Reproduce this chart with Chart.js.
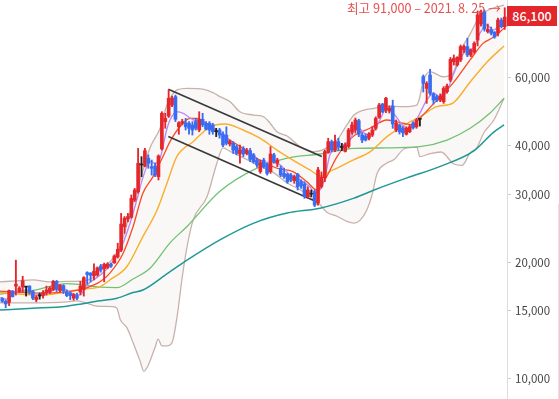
<!DOCTYPE html>
<html><head><meta charset="utf-8">
<script src="https://cdn.jsdelivr.net/npm/chart.js@4.4.0/dist/chart.umd.min.js"></script>
<style>
html,body{margin:0;padding:0;background:#fff;}
#wrap{position:relative;width:559px;height:399px;overflow:hidden;}
canvas{display:block;}
#hi{position:absolute;font:12.6px "Noto Sans CJK KR",sans-serif;line-height:17px;color:#e65050;white-space:nowrap;}
#last{position:absolute;left:507px;width:50px;height:20px;background:#e2262b;color:#fff;font:500 12.5px "Noto Sans CJK KR",sans-serif;text-align:center;line-height:20px;}
#edge{position:absolute;left:558px;top:204px;width:1px;height:195px;background:#e3e3e3;}
</style></head><body>
<div id="wrap"><canvas id="c" width="559" height="399"></canvas><div id="hi"></div><div id="last"></div><div id="edge"></div></div>
<script>
const opens=[16100,15850,15750,16850,17350,16800,17250,17250,17350,16800,16000,16350,16400,16700,16750,17000,17850,16900,17400,16750,16650,16150,16400,16750,17000,18800,18750,18450,18550,19550,19250,19400,19750,19950,20650,21500,24700,25850,26150,28950,30450,35700,35450,37150,35300,35450,33300,39250,46200,47750,51000,53600,44800,45750,45900,45750,45300,46200,43950,46850,45750,45750,45300,43500,43950,42850,42650,40450,40600,39800,38100,39400,38250,38850,37900,36750,34300,36750,35700,34300,37900,36050,35000,33950,33750,33600,32500,33750,32300,31850,29550,30000,30450,28450,31400,33050,38450,41000,39000,41000,39600,38700,39850,43450,43950,46450,42650,42400,41850,42650,44400,47400,51300,49500,49200,50700,43950,45300,44400,42850,43500,45800,44800,46850,60400,56300,61000,54500,53600,52500,52000,55200,59200,66000,64700,66700,70800,72200,68700,70000,75100,82600,88700,78900,79700,78800,78200,84600,81300];
const highs=[16200,15950,16950,16900,20250,17300,18400,17300,17400,16900,16400,16650,16900,17350,17300,17950,17950,17500,17500,16950,16800,16600,16650,17850,18350,18900,18800,19800,19450,19750,19900,19950,19900,20900,22400,26750,26250,26750,29850,31050,39400,37500,39400,37900,36750,36050,37900,49000,48550,55900,53800,54100,46200,46850,47100,46200,46200,47100,49000,48550,46200,46200,45750,44400,44400,43500,44800,41400,41000,40200,40200,39800,39400,39400,38250,37150,36750,37150,36050,39800,38250,37150,35450,35000,33950,33950,33600,33950,32650,32300,31350,30750,30750,35200,34250,39000,41850,41400,42650,41850,40600,40700,44400,46100,47200,46850,43250,42900,43250,44800,47550,51500,51500,53400,50700,52500,46650,45550,44800,44800,45300,46200,47100,47100,61000,58600,63100,54900,54100,54500,56900,57800,67700,68700,68000,72900,72900,75900,71100,74300,89300,89800,89800,82600,81100,78900,85600,85600,91000];
const lows=[15750,15250,15450,16250,16450,16700,16750,16350,16550,16000,15800,16050,16150,16450,16600,16900,16800,16750,16600,16300,16000,15950,16000,16500,16350,17550,17800,18000,18400,18850,17800,19250,19400,19850,20500,21300,23750,25450,26000,28700,30150,33300,35300,35000,33600,33300,32650,39000,44400,47350,50500,46200,42850,45300,43950,42850,42650,43950,43500,44800,43950,42850,42850,42250,41850,39800,40200,39950,38250,37900,36050,37500,37900,36400,36050,35200,33950,35000,33600,33950,36050,35300,33300,32950,32000,32300,32000,30750,31050,29250,29250,29550,27850,28100,31100,32300,38250,38650,38650,38850,38850,38550,39500,42900,43150,42250,40750,41150,41400,42250,43950,47100,48700,48700,48600,44400,43500,42900,42250,42650,43250,44200,44400,45000,55100,51500,54100,51300,52000,52000,51500,54700,58600,64700,64300,66000,69600,68000,68000,69400,72500,81600,79200,78300,77400,75900,76900,80700,80000];
const closes=[15850,15600,16900,16300,17550,17150,17900,17250,16750,16150,16250,16350,16700,16950,17150,17850,17050,17450,16900,16400,16400,16500,16150,17350,18250,18600,18500,18950,19350,19100,19750,19800,19550,20750,21600,25100,26000,26250,29250,30750,36050,35700,38850,36050,35000,33600,37650,48550,47100,53100,53100,46850,45900,46200,44800,44400,43950,44400,46850,45300,44150,43950,43500,43500,42650,40200,40600,41000,39000,38250,39000,38100,39000,36900,36400,35700,36150,35300,33950,38100,36400,36750,33600,33300,32300,32650,33300,31350,31500,29550,30750,30000,28100,34650,33250,38650,41000,39000,41000,39800,39600,40250,43950,45300,46650,42850,41400,41400,42850,43950,47100,51000,49000,53100,50100,45550,45750,43500,43250,44400,44800,44500,46650,46850,58000,58000,54700,52500,52500,53800,56300,57100,66900,67300,67700,72200,72200,68700,70800,73600,87200,88700,80200,80000,78200,76500,84600,81300,86100];
const highDate='2021. 8. 25';
const yTicks=[10000,15000,20000,30000,40000,60000];

const ma5=[[-0.68,16200],[1.3,16050],[3.2,16550],[5.2,16850],[7.2,16950],[9.1,16700],[12.1,16450],[15,16950],[18,17050],[20.9,16550],[22.9,16450],[24.9,17450],[27.8,18250],[30.8,19200],[34.7,21500],[37.6,25200],[39.6,28950],[41.5,33300],[43.5,36400],[45,36050],[46.5,37200],[48.4,43950],[49.4,46650],[51.4,49000],[53.3,48550],[56.3,46650],[59.2,46200],[62.2,44400],[65.1,42650],[68,40200],[71,38650],[73.9,37500],[76.9,36050],[78.9,36400],[81.8,35700],[84.8,33600],[87.7,32650],[90.6,31350],[92.1,30150],[93.6,30750],[95.1,33300],[96.5,37900],[99.5,39800],[102.4,41400],[104.4,44800],[107.3,42850],[109.3,43500],[111.2,46650],[113.2,50000],[115.2,48550],[117.1,46200],[119.1,44400],[121.1,45300],[123,48550],[125,52500],[127,54700],[128.9,53600],[130.9,55200],[132.8,61000],[134.8,66700],[136.8,70800],[138.7,71500],[140.7,78200],[142.7,82100],[144.6,79700],[146.6,82100],[147.8,83700]];
const ma10=[[-0.68,16850],[11.1,16650],[23.8,17050],[25.8,17300],[28.8,17800],[31.7,18750],[35.6,21100],[38.5,24700],[41.4,30150],[44.4,33300],[47.3,37500],[49.4,41000],[52.3,44800],[55.3,47100],[57.3,47100],[61.2,44800],[66.2,41850],[70.9,39400],[75.9,36750],[80.9,35000],[85.6,34300],[89.7,32300],[92.7,30750],[95.6,33400],[98.6,37500],[103.3,42250],[108.3,44400],[113.3,46650],[118,45750],[121,45300],[123,47100],[128,52500],[132.7,58000],[137.8,66700],[141.6,73600],[144.5,76200],[147.8,80500]];
const ma20=[[-0.68,16700],[11.1,16450],[23.8,17050],[28.8,17300],[31.7,18000],[36.7,19500],[41.4,23300],[45.6,27300],[48.5,32000],[51.4,37500],[56.2,41000],[61.2,44800],[65.6,45550],[70.9,43950],[75.9,41850],[80.9,39000],[85.6,36750],[90.6,34650],[93.6,33500],[97.4,34650],[103.3,36750],[108.3,38600],[113.3,42250],[118,45000],[123,47550],[128,50500],[132.7,51600],[137.8,58500],[142.8,65900],[147.8,72500]];
const ma60=[[-0.68,16550],[8.2,16850],[19.1,17600],[28.8,17250],[33.8,17200],[38.5,18100],[43.5,19300],[49.4,22450],[54.4,24750],[64.1,30500],[74.1,34700],[83.9,37200],[93.6,38100],[103.6,39400],[113.3,39500],[123,39800],[131,41400],[137.8,44400],[143.6,48550],[147.8,53100]];
const ma120=[[-0.68,15050],[9,15200],[19,15400],[28.8,15900],[33.8,16150],[38.5,16700],[41.4,16950],[48.8,18750],[54.4,20250],[64.1,22850],[74.1,25250],[83.9,26800],[93.6,27600],[103.6,29300],[109.5,30750],[119.2,33050],[129.2,35450],[138.9,38800],[144.5,43200],[147.8,45300]];
const bbUpper=[[-0.68,17800],[4.3,17900],[9,18000],[14,17800],[19.1,17850],[23.8,17900],[26.4,18200],[28.8,19100],[31.7,20050],[34.7,21950],[37.6,26750],[40.6,32650],[43.5,39500],[46.5,44500],[48.5,51000],[51.5,55800],[54.4,56300],[59.4,56000],[62.4,54700],[64.1,53600],[67.1,52000],[70,49000],[74.1,48050],[77.1,47500],[78.9,45750],[80.9,43500],[83.9,42400],[87.7,39800],[91.5,38650],[94.2,39000],[98.6,41400],[101.5,45300],[103.6,48050],[106.5,49500],[109.5,50000],[113.3,50700],[118,50500],[122.1,51000],[123,53600],[123.9,58600],[126,62250],[129.8,60350],[132.7,61550],[134.8,69900],[137.8,77800],[140.7,86650],[143.6,90100],[147.8,92500]];
const bbLower=[[-0.68,15700],[9,15700],[19.1,15800],[22,15900],[27.9,15400],[32.6,15350],[33.8,15200],[34.7,14250],[36.7,13550],[38.5,12400],[40.6,11100],[41.7,10450],[42.9,10800],[45,12050],[45.9,12650],[47,12150],[48.5,12150],[50,12400],[51.5,14500],[52.9,18050],[54.4,21900],[56.2,25700],[60.3,29550],[63.2,36050],[65,39500],[67.1,38700],[74.1,36100],[80,34050],[83.9,32050],[87.7,30800],[91.8,29000],[93.6,28150],[95.6,26950],[98.6,26300],[101.5,25500],[103.6,25250],[105.4,25700],[107.4,27350],[108.9,29850],[110.4,33950],[113.3,36100],[115.4,36850],[118.3,39250],[122.1,39700],[123,37500],[126,38200],[129.2,38550],[133,35900],[135.4,35600],[137.8,38350],[139.8,39600],[141.9,43300],[144.8,46650],[147.8,53100]];
const trendUpper=[[48.9,56000],[94.1,37550]];
const trendLower=[[48.9,42300],[92.4,28700]];

const N=closes.length;
const idx=[...Array(N).keys()];
const UP='#e5262b',DOWN='#396cf2',FLAT='#222222';
const col=idx.map(i=>closes[i]>opens[i]?UP:(closes[i]<opens[i]?DOWN:FLAT));
const pts=a=>a.map(([x,y])=>({x,y}));
const line=(data,color,w,order,extra)=>Object.assign({type:'line',data:pts(data),borderColor:color,borderWidth:w,pointRadius:0,fill:false,cubicInterpolationMode:'monotone',order},extra||{});

const chart=new Chart(document.getElementById('c'),{
  type:'bar',
  data:{datasets:[
    {type:'bar',data:idx.map(i=>({x:i,y:[opens[i],closes[i]]})),backgroundColor:col,barThickness:3,minBarLength:1,grouped:false,order:1},
    {type:'bar',data:idx.map(i=>({x:i,y:[lows[i],highs[i]]})),backgroundColor:col,barThickness:1.2,grouped:false,order:2},
    line(trendUpper,'#3a3a3a',1.7,3,{cubicInterpolationMode:'default',tension:0}),
    line(trendLower,'#3a3a3a',1.7,3,{cubicInterpolationMode:'default',tension:0}),
    line(ma5,'#bb8cf6',1.4,4),
    line(ma10,'#fb4a22',1.3,5),
    line(ma20,'#f9ae2c',1.4,6),
    line(ma60,'#72c272',1.3,7),
    line(ma120,'#1f9896',1.5,8),
    line(bbUpper,'#c7b1ab',1.3,20,{fill:'+1',backgroundColor:'rgba(214,196,190,0.13)'}),
    line(bbLower,'#c7b1ab',1.3,21)
  ]},
  options:{
    responsive:false,animation:false,devicePixelRatio:1,
    layout:{padding:0},
    plugins:{legend:{display:false},tooltip:{enabled:false}},
    scales:{
      x:{type:'linear',min:-0.68,max:148.66,display:false,offset:false},
      y:{type:'logarithmic',position:'right',min:8860,max:95300,
        afterBuildTicks:s=>{s.ticks=yTicks.map(v=>({value:v}));},
        afterFit:s=>{s.width=52;s.paddingTop=0;s.paddingBottom=0;},
        grid:{drawOnChartArea:false,drawTicks:true,tickLength:4,color:'#cccccc'},
        border:{display:true,color:'#dddddd'},
        ticks:{padding:4,color:'#444444',autoSkip:false,font:{family:'"Noto Sans CJK KR"',size:11.5},callback:v=>Number(v).toLocaleString('en-US')}
      }
    }
  }
});

const xs=chart.scales.x, ys=chart.scales.y;
const lastEl=document.getElementById('last');
lastEl.textContent=closes[N-1].toLocaleString('en-US');
lastEl.style.top=(ys.getPixelForValue(closes[N-1])-11)+'px';
const maxH=Math.max(...highs), maxI=highs.indexOf(maxH);
const hi=document.getElementById('hi');
hi.textContent='최고 '+maxH.toLocaleString('en-US')+' – '+highDate+' →';
hi.style.right=(559-(xs.getPixelForValue(maxI)-4))+'px';
hi.style.top=(ys.getPixelForValue(maxH)-9)+'px';
</script>
</body></html>
